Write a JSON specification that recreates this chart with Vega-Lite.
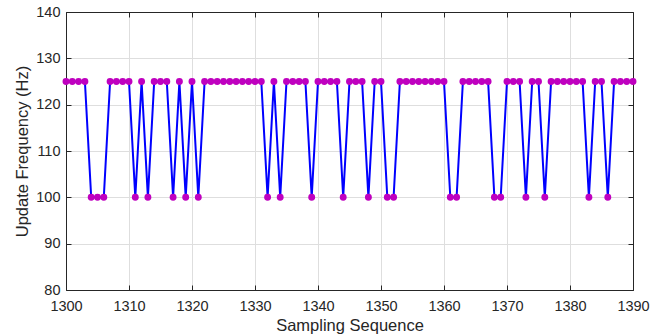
{
  "$schema": "https://vega.github.io/schema/vega-lite/v6.json",
  "width": 567,
  "height": 278,
  "autosize": {"type": "none"},
  "padding": {"left": 66, "top": 12, "right": 32, "bottom": 46},
  "background": "white",
  "config": {
    "font": "Liberation Sans",
    "view": {"stroke": null},
    "axis": {
      "labelFont": "Liberation Sans",
      "titleFont": "Liberation Sans",
      "labelFontSize": 14.5,
      "titleFontSize": 16.5,
      "titleFontWeight": "normal",
      "labelColor": "#262626",
      "titleColor": "#262626",
      "domainColor": "#262626",
      "tickColor": "#262626",
      "tickSize": -5,
      "gridColor": "#dedede",
      "gridWidth": 1
    }
  },
  "data": {"values": [
    {"seq":1300,"freq":125},{"seq":1301,"freq":125},{"seq":1302,"freq":125},{"seq":1303,"freq":125},
    {"seq":1304,"freq":100},{"seq":1305,"freq":100},{"seq":1306,"freq":100},{"seq":1307,"freq":125},
    {"seq":1308,"freq":125},{"seq":1309,"freq":125},{"seq":1310,"freq":125},{"seq":1311,"freq":100},
    {"seq":1312,"freq":125},{"seq":1313,"freq":100},{"seq":1314,"freq":125},{"seq":1315,"freq":125},
    {"seq":1316,"freq":125},{"seq":1317,"freq":100},{"seq":1318,"freq":125},{"seq":1319,"freq":100},
    {"seq":1320,"freq":125},{"seq":1321,"freq":100},{"seq":1322,"freq":125},{"seq":1323,"freq":125},
    {"seq":1324,"freq":125},{"seq":1325,"freq":125},{"seq":1326,"freq":125},{"seq":1327,"freq":125},
    {"seq":1328,"freq":125},{"seq":1329,"freq":125},{"seq":1330,"freq":125},{"seq":1331,"freq":125},
    {"seq":1332,"freq":100},{"seq":1333,"freq":125},{"seq":1334,"freq":100},{"seq":1335,"freq":125},
    {"seq":1336,"freq":125},{"seq":1337,"freq":125},{"seq":1338,"freq":125},{"seq":1339,"freq":100},
    {"seq":1340,"freq":125},{"seq":1341,"freq":125},{"seq":1342,"freq":125},{"seq":1343,"freq":125},
    {"seq":1344,"freq":100},{"seq":1345,"freq":125},{"seq":1346,"freq":125},{"seq":1347,"freq":125},
    {"seq":1348,"freq":100},{"seq":1349,"freq":125},{"seq":1350,"freq":125},{"seq":1351,"freq":100},
    {"seq":1352,"freq":100},{"seq":1353,"freq":125},{"seq":1354,"freq":125},{"seq":1355,"freq":125},
    {"seq":1356,"freq":125},{"seq":1357,"freq":125},{"seq":1358,"freq":125},{"seq":1359,"freq":125},
    {"seq":1360,"freq":125},{"seq":1361,"freq":100},{"seq":1362,"freq":100},{"seq":1363,"freq":125},
    {"seq":1364,"freq":125},{"seq":1365,"freq":125},{"seq":1366,"freq":125},{"seq":1367,"freq":125},
    {"seq":1368,"freq":100},{"seq":1369,"freq":100},{"seq":1370,"freq":125},{"seq":1371,"freq":125},
    {"seq":1372,"freq":125},{"seq":1373,"freq":100},{"seq":1374,"freq":125},{"seq":1375,"freq":125},
    {"seq":1376,"freq":100},{"seq":1377,"freq":125},{"seq":1378,"freq":125},{"seq":1379,"freq":125},
    {"seq":1380,"freq":125},{"seq":1381,"freq":125},{"seq":1382,"freq":125},{"seq":1383,"freq":100},
    {"seq":1384,"freq":125},{"seq":1385,"freq":125},{"seq":1386,"freq":100},{"seq":1387,"freq":125},
    {"seq":1388,"freq":125},{"seq":1389,"freq":125},{"seq":1390,"freq":125}
  ]},
  "resolve": {"axis": {"x": "independent", "y": "independent"}},
  "layer": [
    {
      "mark": {"type": "line", "color": "#0000ff", "strokeWidth": 2, "clip": true},
      "encoding": {
        "x": {"field": "seq", "type": "quantitative",
              "scale": {"domain": [1300, 1390], "nice": false, "zero": false},
              "axis": {"title": "Sampling Sequence", "values": [1300,1310,1320,1330,1340,1350,1360,1370,1380,1390],
                       "format": "d", "labelPadding": 14, "titlePadding": 5, "grid": true, "labelFlush": false}},
        "y": {"field": "freq", "type": "quantitative",
              "scale": {"domain": [80, 140], "nice": false, "zero": false},
              "axis": {"title": "Update Frequency (Hz)", "values": [80,90,100,110,120,130,140],
                       "labelPadding": 11, "titlePadding": 5, "grid": true}}
      }
    },
    {
      "mark": {"type": "point", "filled": true, "color": "#bf00bf", "size": 48, "opacity": 1, "clip": false},
      "encoding": {
        "x": {"field": "seq", "type": "quantitative",
              "scale": {"domain": [1300, 1390], "nice": false, "zero": false},
              "axis": {"orient": "top", "title": null, "labels": false, "grid": false,
                       "values": [1300,1310,1320,1330,1340,1350,1360,1370,1380,1390]}},
        "y": {"field": "freq", "type": "quantitative",
              "scale": {"domain": [80, 140], "nice": false, "zero": false},
              "axis": {"orient": "right", "title": null, "labels": false, "grid": false,
                       "values": [80,90,100,110,120,130,140]}}
      }
    }
  ]
}
